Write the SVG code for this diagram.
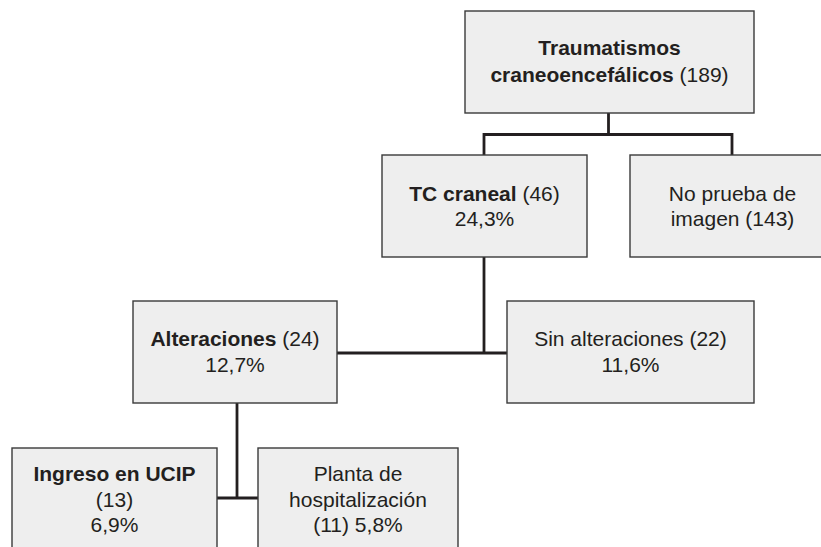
<svg xmlns="http://www.w3.org/2000/svg" width="821" height="547" viewBox="0 0 821 547">
<style>
.box{fill:#eeeeee;stroke:#3a3a3a;stroke-width:1.4}
.t{font-family:"Liberation Sans",Arial,sans-serif;font-size:21px;fill:#231f20;text-anchor:middle}
.b{font-weight:bold}
.c{fill:none;stroke:#231f20;stroke-width:2.8}
</style>
<rect width="821" height="547" fill="#ffffff"/>
<g id="connectors">
<path class="c" d="M608.5 113 V134.5"/>
<path class="c" d="M484 155 V134.5 H732 V155"/>
<path class="c" d="M484 257 V353"/>
<path class="c" d="M337 353 H507"/>
<path class="c" d="M237 403 V498"/>
<path class="c" d="M217 498 H258"/>
</g>
<g id="traumatismos">
<rect class="box" x="465" y="11" width="289" height="102"/>
<text class="t" x="609.5" y="55"><tspan class="b">Traumatismos</tspan></text>
<text class="t" x="609.5" y="82"><tspan class="b">craneoencefálicos</tspan> (189)</text>
</g>
<g id="tc-craneal">
<rect class="box" x="382" y="155" width="205" height="102"/>
<text class="t" x="484.5" y="201"><tspan class="b">TC craneal</tspan> (46)</text>
<text class="t" x="484.5" y="226">24,3%</text>
</g>
<g id="no-prueba">
<rect class="box" x="630" y="155" width="205" height="102"/>
<text class="t" x="732.5" y="201">No prueba de</text>
<text class="t" x="732.5" y="226">imagen (143)</text>
</g>
<g id="alteraciones">
<rect class="box" x="133" y="301" width="204" height="102"/>
<text class="t" x="235" y="346"><tspan class="b">Alteraciones</tspan> (24)</text>
<text class="t" x="235" y="372">12,7%</text>
</g>
<g id="sin-alteraciones">
<rect class="box" x="507" y="301" width="247" height="102"/>
<text class="t" x="630.5" y="346">Sin alteraciones (22)</text>
<text class="t" x="630.5" y="372">11,6%</text>
</g>
<g id="ingreso-ucip">
<rect class="box" x="12" y="448" width="205" height="110"/>
<text class="t" x="114.5" y="481"><tspan class="b">Ingreso en UCIP</tspan></text>
<text class="t" x="114.5" y="507">(13)</text>
<text class="t" x="114.5" y="532">6,9%</text>
</g>
<g id="planta">
<rect class="box" x="258" y="448" width="200" height="110"/>
<text class="t" x="358" y="481">Planta de</text>
<text class="t" x="358" y="507">hospitalización</text>
<text class="t" x="358" y="532">(11) 5,8%</text>
</g>
</svg>
